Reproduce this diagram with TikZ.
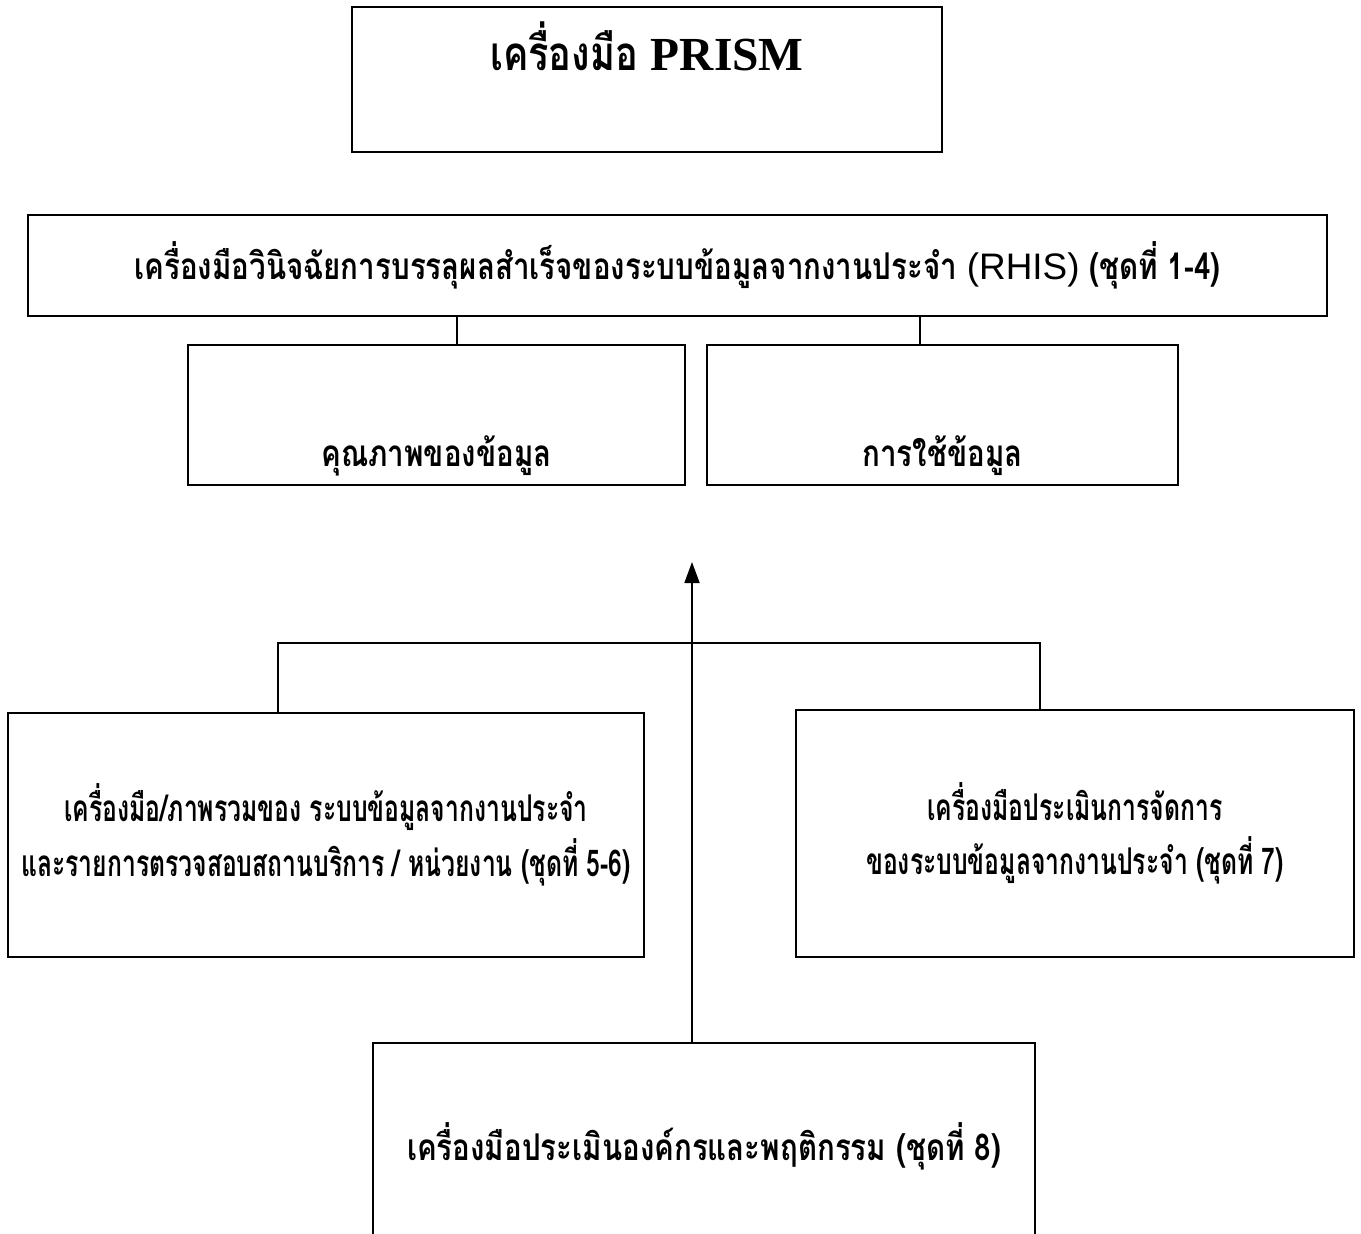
\documentclass[tikz,border=0pt]{standalone}
\usepackage{fontspec}
\usepackage{xcolor}
\usetikzlibrary{arrows.meta,positioning}
\newfontfamily\thaifont[Script=Thai,FakeStretch=0.8]{Loma}
\newfontfamily\thainarrow[Script=Thai,FakeStretch=0.67]{Loma}
\newfontfamily\prismfont{Liberation Serif}
\newfontfamily\rhisfont{Liberation Sans}

\begin{document}
\begin{tikzpicture}[
  x=0.02cm, y=-0.02cm,
  font=\thaifont\bfseries\fontsize{21}{36}\selectfont,
  box/.style={draw, line width=1pt, align=center, inner sep=0pt},
  narrow/.style={font=\thainarrow\bfseries\fontsize{21}{31}\selectfont},
  link/.style={line width=1pt},
  arrow/.style={-{Triangle[length=0.42cm, width=0.3cm]}, line width=1pt}
]
\useasboundingbox (0,0) rectangle (1361,1233);
\clip (0,0) rectangle (1361,1233);

\node[box, minimum width=11.8cm, minimum height=2.9cm, text height=0.8cm, text depth=1.18cm,
  font=\thaifont\bfseries\fontsize{27}{36}\selectfont] (prism) at (647,79.5)
  {เครื่องมือ {\prismfont\bfseries PRISM}};
\node[box, minimum width=25.98cm, minimum height=2.02cm] (rhis) at (677.5,265.5)
  {เครื่องมือวินิจฉัยการบรรลุผลสำเร็จของระบบข้อมูลจากงานประจำ {\rhisfont\mdseries (RHIS)} (ชุดที่ 1-4)};
\node[box, minimum width=9.94cm, minimum height=2.8cm, text height=2.3cm, text depth=0.22cm] (quality) at (436.5,415)
  {คุณภาพของข้อมูล};
\node[box, minimum width=9.42cm, minimum height=2.8cm, text height=2.3cm, text depth=0.22cm] (datause) at (942.5,415)
  {การใช้ข้อมูล};

\node[box, narrow, minimum width=12.72cm, minimum height=4.88cm] (overview) at (326,835)
  {เครื่องมือ/ภาพรวมของ ระบบข้อมูลจากงานประจำ\\และรายการตรวจสอบสถานบริการ / หน่วยงาน (ชุดที่ 5-6)};
\node[box, narrow, minimum width=11.16cm, minimum height=4.94cm] (mgmt) at (1075,833.5)
  {เครื่องมือประเมินการจัดการ\\ของระบบข้อมูลจากงานประจำ (ชุดที่ 7)};
\node[box, minimum width=13.24cm, minimum height=4.14cm] (orgbeh) at (704,1146.5)
  {เครื่องมือประเมินองค์กรและพฤติกรรม (ชุดที่ 8)};

% taps and bar
\coordinate (qtap) at (457,0);
\coordinate (utap) at (920,0);
\coordinate (lleg) at (278,0);
\coordinate (rleg) at (1040,0);
\coordinate (bar) at (0,643);
\coordinate (tip) at (692,562);

\draw[link] (rhis.south -| qtap) -- (quality.north -| qtap);
\draw[link] (rhis.south -| utap) -- (datause.north -| utap);
\draw[link] (overview.north -| lleg) -- (lleg |- bar) -- (rleg |- bar) -- (mgmt.north -| rleg);
\draw[arrow] (orgbeh.north -| tip) -- (tip);

\end{tikzpicture}
\end{document}
